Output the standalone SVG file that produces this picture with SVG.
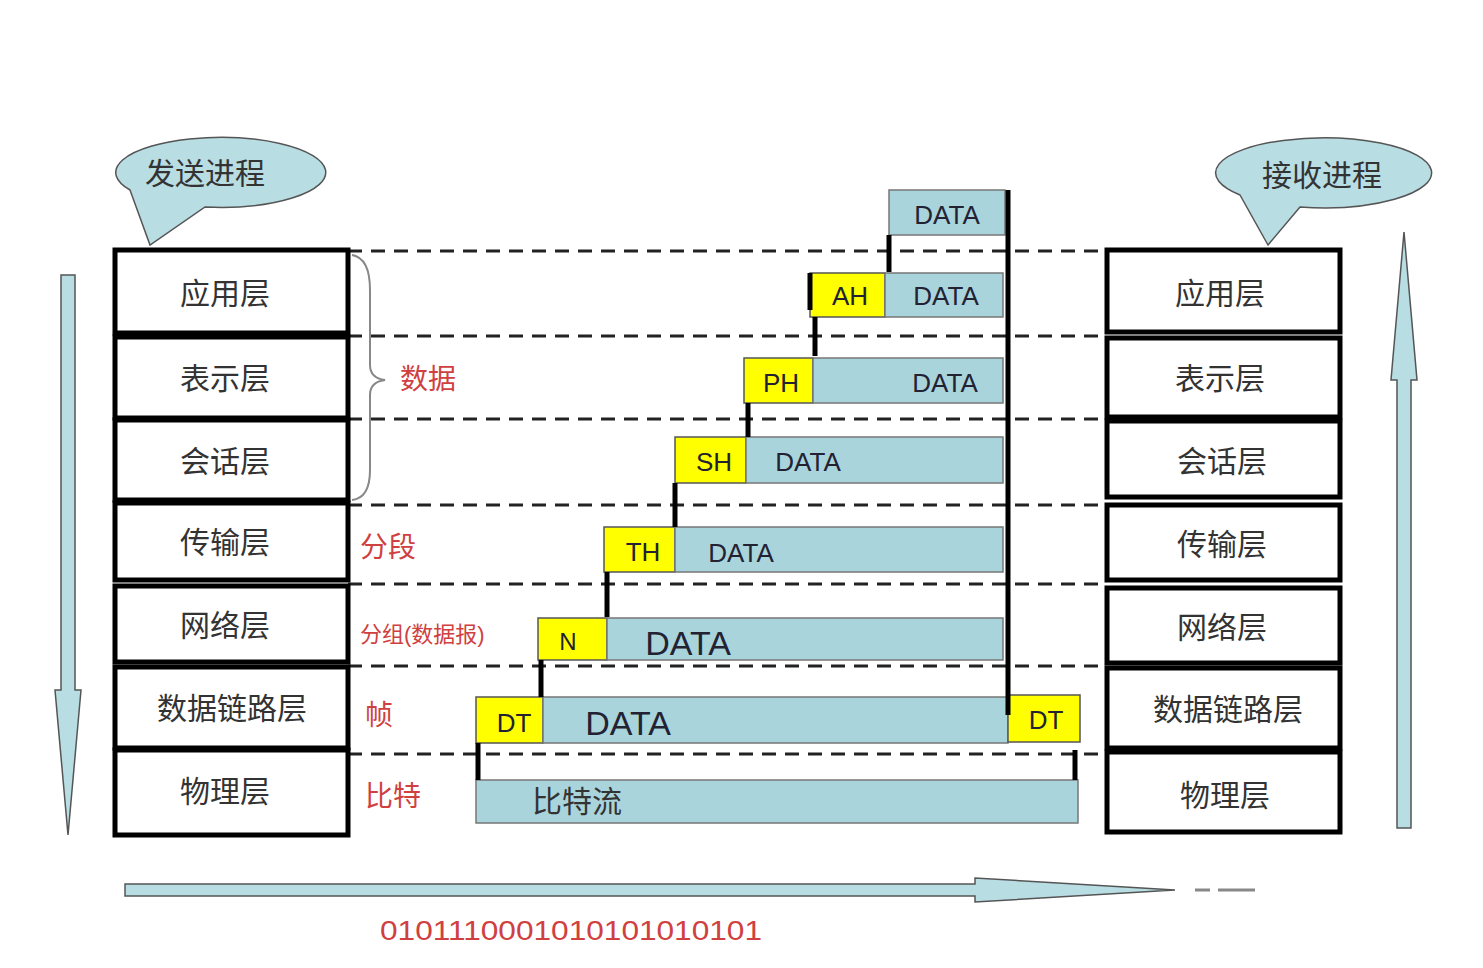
<svg xmlns="http://www.w3.org/2000/svg" width="1483" height="968" viewBox="0 0 1483 968">
<style>
.lay{fill:#fff;stroke:#000;stroke-width:5}
.lt{font-family:"Liberation Sans","Noto Sans CJK SC",sans-serif;font-size:30px;fill:#333;text-anchor:middle}
.red{font-family:"Liberation Sans","Noto Sans CJK SC",sans-serif;font-size:28px;fill:#d04040}
.d{fill:#a9d4dc;stroke:#777;stroke-width:1.5}
.y{fill:#ffff00;stroke:#555;stroke-width:1.5}
.pt{font-family:"Liberation Sans",sans-serif;font-size:26px;fill:#223}
.dash{stroke:#222;stroke-width:3;stroke-dasharray:14 9}
.stub{stroke:#000;stroke-width:5}
.arr{fill:#b8dde3;stroke:#555;stroke-width:1.5}
</style>
<rect width="1483" height="968" fill="#fff"/>
<g id="bubbles">
<path class="arr" d="M130 190 A105 35 0 1 1 205 207 L150 245 Z"/>
<text class="lt" x="205" y="184">发送进程</text>
<path class="arr" d="M1300 207 A108 35 0 1 0 1240 195 L1268 245 Z"/>
<text class="lt" x="1322" y="186">接收进程</text>
</g>
<g id="arrows">
<path class="arr" d="M61 275 H75 V690 H81 L68 835 L55 690 H61 Z"/>
<path class="arr" d="M1397 828 H1411 V380 H1417 L1404 232 L1391 380 H1397 Z"/>
<path class="arr" d="M125 884 H975 V878 L1175 890 L975 902 V896 H125 Z"/>
<path d="M1195 890 H1210 M1218 890 H1255" stroke="#888" stroke-width="3"/>
<text x="380" y="940" font-family="Liberation Sans,sans-serif" font-size="28" fill="#d04040" textLength="382" lengthAdjust="spacingAndGlyphs">0101110001010101010101</text>
</g>
<g id="connectors">
<line class="dash" x1="348" y1="251" x2="1107" y2="251"/>
<line class="dash" x1="348" y1="336" x2="1107" y2="336"/>
<line class="dash" x1="348" y1="419" x2="1107" y2="419"/>
<line class="dash" x1="348" y1="505" x2="1107" y2="505"/>
<line class="dash" x1="348" y1="584" x2="1107" y2="584"/>
<line class="dash" x1="348" y1="666" x2="1107" y2="666"/>
<line class="dash" x1="348" y1="754" x2="1107" y2="754"/>
</g>
<g id="left-layers">
<rect class="lay" x="115" y="250" width="233" height="83"/><text class="lt" x="225" y="304">应用层</text>
<rect class="lay" x="115" y="337" width="233" height="81"/><text class="lt" x="225" y="389">表示层</text>
<rect class="lay" x="115" y="420" width="233" height="80"/><text class="lt" x="225" y="472">会话层</text>
<rect class="lay" x="115" y="503" width="233" height="77"/><text class="lt" x="225" y="553">传输层</text>
<rect class="lay" x="115" y="586" width="233" height="76"/><text class="lt" x="225" y="636">网络层</text>
<rect class="lay" x="115" y="667" width="233" height="81"/><text class="lt" x="232" y="719">数据链路层</text>
<rect class="lay" x="115" y="750" width="233" height="85"/><text class="lt" x="225" y="802">物理层</text>
</g>
<g id="right-layers">
<rect class="lay" x="1107" y="250" width="233" height="82"/><text class="lt" x="1220" y="304">应用层</text>
<rect class="lay" x="1107" y="338" width="233" height="79"/><text class="lt" x="1220" y="389">表示层</text>
<rect class="lay" x="1107" y="421" width="233" height="76"/><text class="lt" x="1222" y="472">会话层</text>
<rect class="lay" x="1107" y="505" width="233" height="75"/><text class="lt" x="1222" y="555">传输层</text>
<rect class="lay" x="1107" y="588" width="233" height="75"/><text class="lt" x="1222" y="638">网络层</text>
<rect class="lay" x="1107" y="668" width="233" height="80"/><text class="lt" x="1228" y="720">数据链路层</text>
<rect class="lay" x="1107" y="752" width="233" height="80"/><text class="lt" x="1225" y="806">物理层</text>
</g>
<g id="labels">
<path d="M352 255 Q370 258 370 290 V365 Q370 378 385 380 Q370 382 370 395 V470 Q370 498 352 500" fill="none" stroke="#888" stroke-width="2"/>
<text class="red" x="400" y="389">数据</text>
<text class="red" x="360" y="557">分段</text>
<text class="red" x="360" y="642" style="font-size:22px">分组(数据报)</text>
<text class="red" x="365" y="725">帧</text>
<text class="red" x="365" y="806">比特</text>
</g>
<g id="packets">
<rect class="d" x="889" y="190" width="116" height="45"/><text class="pt" x="947" y="224" text-anchor="middle">DATA</text>
<rect class="y" x="810" y="273" width="75" height="44"/><text class="pt" x="850" y="305" text-anchor="middle">AH</text>
<rect class="d" x="885" y="273" width="118" height="44"/><text class="pt" x="946" y="305" text-anchor="middle">DATA</text>
<rect class="y" x="744" y="358" width="69" height="45"/><text class="pt" x="781" y="392" text-anchor="middle">PH</text>
<rect class="d" x="813" y="358" width="190" height="45"/><text class="pt" x="945" y="392" text-anchor="middle">DATA</text>
<rect class="y" x="675" y="437" width="71" height="46"/><text class="pt" x="714" y="471" text-anchor="middle">SH</text>
<rect class="d" x="746" y="437" width="257" height="46"/><text class="pt" x="808" y="471" text-anchor="middle">DATA</text>
<rect class="y" x="604" y="527" width="71" height="45"/><text class="pt" x="643" y="561" text-anchor="middle">TH</text>
<rect class="d" x="675" y="527" width="328" height="45"/><text class="pt" x="741" y="562" text-anchor="middle">DATA</text>
<rect class="y" x="538" y="618" width="69" height="42"/><text class="pt" x="568" y="650" text-anchor="middle" style="font-size:24px">N</text>
<rect class="d" x="607" y="618" width="396" height="42"/><text class="pt" x="688" y="655" text-anchor="middle" style="font-size:34px">DATA</text>
<rect class="y" x="476" y="697" width="67" height="46"/><text class="pt" x="514" y="732" text-anchor="middle">DT</text>
<rect class="d" x="543" y="697" width="465" height="46"/><text class="pt" x="628" y="735" text-anchor="middle" style="font-size:34px">DATA</text>
<rect class="y" x="1008" y="695" width="72" height="47"/><text class="pt" x="1046" y="729" text-anchor="middle">DT</text>
<rect class="d" x="476" y="780" width="602" height="43"/><text class="lt" x="577" y="812">比特流</text>
<line class="stub" x1="1008" y1="190" x2="1008" y2="715"/>
<line class="stub" x1="889" y1="235" x2="889" y2="272"/>
<line class="stub" x1="810" y1="273" x2="810" y2="310"/>
<line class="stub" x1="815" y1="317" x2="815" y2="356"/>
<line class="stub" x1="748" y1="403" x2="748" y2="437"/>
<line class="stub" x1="675" y1="483" x2="675" y2="527"/>
<line class="stub" x1="607" y1="572" x2="607" y2="617"/>
<line class="stub" x1="541" y1="660" x2="541" y2="697"/>
<line class="stub" x1="478" y1="743" x2="478" y2="780"/>
<line class="stub" x1="1075" y1="750" x2="1075" y2="780"/>
</g>
</svg>
